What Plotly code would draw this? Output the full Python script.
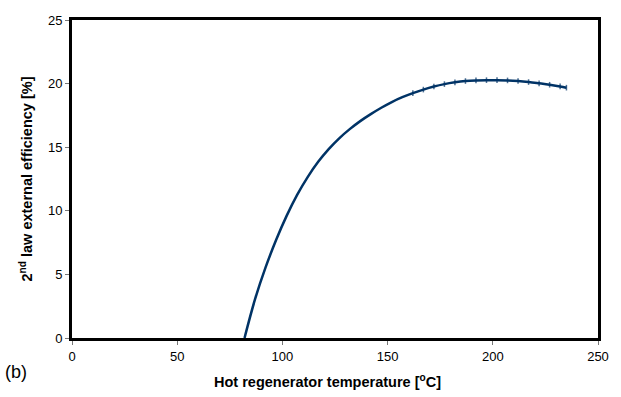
import plotly.graph_objects as go

temperature = [82, 87, 92, 97, 102, 107, 112, 117, 122, 127, 132, 137, 142, 147, 152, 157,
               162, 167, 172, 177, 182, 187, 192, 197, 202, 207, 212, 217, 222, 227, 232, 235]
efficiency = [0, 3.05, 5.55, 7.7, 9.6, 11.25, 12.65, 13.85, 14.85, 15.7, 16.42, 17.05,
              17.6, 18.1, 18.55, 18.93, 19.25, 19.53, 19.77, 19.96, 20.1, 20.2, 20.25,
              20.27, 20.27, 20.25, 20.2, 20.12, 20.02, 19.91, 19.78, 19.68]

x_ticks = [0, 50, 100, 150, 200, 250]
y_ticks = [0, 5, 10, 15, 20, 25]

marker_sizes = [4 if t >= 160 else 0 for t in temperature]

fig = go.Figure()
fig.add_trace(go.Scatter(
    x=temperature, y=efficiency, mode="lines+markers",
    line=dict(color="#003366", width=2.5, shape="spline", smoothing=1),
    marker=dict(symbol="line-ns", size=marker_sizes,
                line=dict(color="#003366", width=1.5)),
    showlegend=False, hoverinfo="skip"))

axis_common = dict(showline=True, linecolor="black", linewidth=3, mirror=True,
                   ticks="outside", ticklen=4, tickcolor="#777777", tickwidth=1,
                   showgrid=False, zeroline=False,
                   tickfont=dict(family="Arial, Liberation Sans", size=13, color="black"))

fig.update_xaxes(range=[0, 250], tickvals=x_ticks, **axis_common)
fig.update_yaxes(range=[0, 25], tickvals=y_ticks, **axis_common,
                 title=dict(text="<b>2<sup>nd</sup> law external efficiency [%]</b>",
                            font=dict(family="Arial, Liberation Sans", size=14.5, color="black"),
                            standoff=12))

fig.add_annotation(text="<b>Hot regenerator temperature [<sup>o</sup>C]</b>",
                   xref="paper", yref="paper", x=(327 - 72) / 526, y=-(381 - 338) / 318,
                   xanchor="center", yanchor="middle", showarrow=False,
                   font=dict(family="Arial, Liberation Sans", size=14.5, color="black"))

fig.add_annotation(text="(b)", xref="paper", yref="paper", x=-0.131, y=-0.07,
                   xanchor="left", yanchor="top", showarrow=False,
                   font=dict(family="Arial, Liberation Sans", size=18, color="black"))

fig.update_layout(width=621, height=397, margin=dict(l=72, r=23, t=20, b=59),
                  paper_bgcolor="white", plot_bgcolor="white")

fig.write_html("out.html")
